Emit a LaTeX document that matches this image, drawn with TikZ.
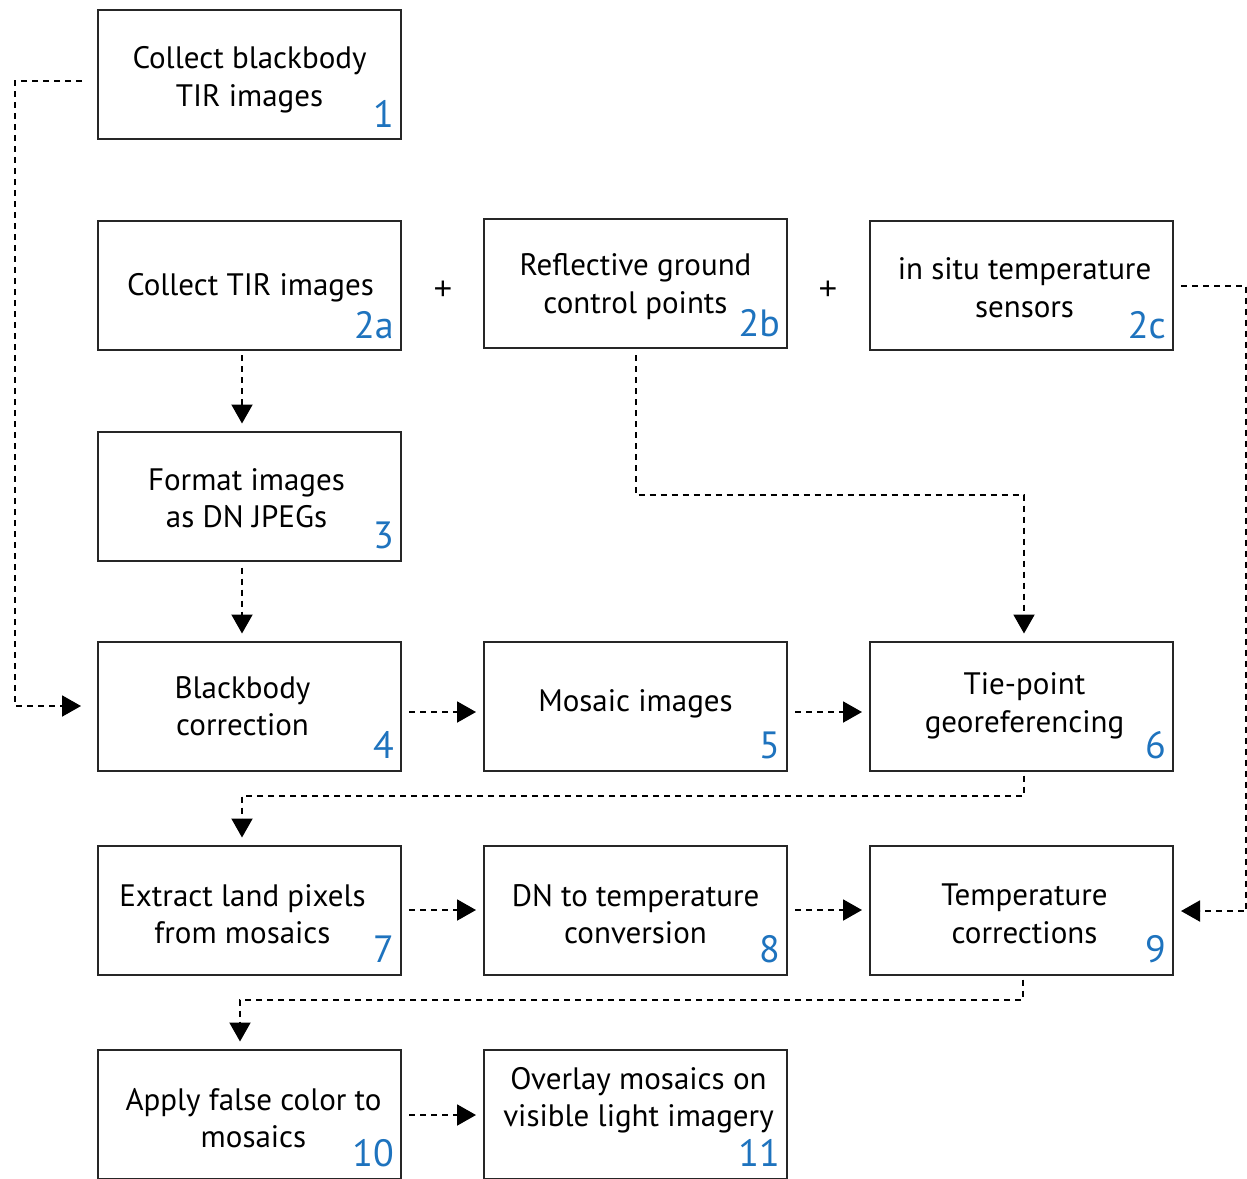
\documentclass[tikz,border=0pt]{standalone}
\usepackage{fontspec}
\setmainfont{PT Sans}
\newfontfamily\plusfont{Liberation Sans}
\usetikzlibrary{arrows.meta,calc}
\definecolor{numblue}{RGB}{30,115,190}
\newcommand\flowbox[7]{%
  \node[box] (#1) at (#2,#3) {};
  \node[txt] (#1t) at (#2+#4,#3+#5+2) {#6};
  \node[num] (#1n) at ($(#1.south east)+(-8,-13)$) {#7};
}
\begin{document}
\begin{tikzpicture}[x=1pt,y=-1pt,
  box/.style={draw=black!85, line width=2pt, minimum width=303pt, minimum height=129pt, inner sep=0pt},
  txt/.style={align=center, font=\fontsize{31}{37.5}\selectfont, inner sep=0pt},
  num/.style={text=numblue, font=\fontsize{38}{38}\selectfont, inner sep=0pt, anchor=base east},
  plussign/.style={inner sep=0pt, font=\plusfont\fontsize{32}{32}\selectfont},
  conn/.style={line width=2pt, dash pattern=on 6pt off 5pt, -{Triangle[length=19pt,width=21pt]}}
]
\useasboundingbox (0,0) rectangle (1247,1178);
\fill[white] (0,0) rectangle (1247,1178);

\flowbox{b1}{249.5}{74.5}{0}{3}{Collect blackbody\\TIR images}{1}
\flowbox{b2a}{249.5}{285.5}{1}{0}{Collect TIR images}{2a}
\flowbox{b2b}{635.5}{283.5}{0}{1}{Reflective ground\\control points}{2b}
\flowbox{b2c}{1021.5}{285.5}{3}{0}{in situ temperature\\sensors}{2c}
\flowbox{b3}{249.5}{496}{-3}{0}{Format images\\as DN JPEGs}{3}
\flowbox{b4}{249.5}{706}{-7}{-2}{Blackbody\\correction}{4}
\flowbox{b5}{635.5}{706}{0}{-4}{Mosaic images}{5}
\flowbox{b6}{1021.5}{706}{3}{-2}{Tie-point\\georeferencing}{6}
\flowbox{b7}{249.5}{910}{-7}{2}{Extract land pixels\\from mosaics}{7}
\flowbox{b8}{635.5}{910}{0}{2}{DN to temperature\\conversion}{8}
\flowbox{b9}{1021.5}{910}{3}{2}{Temperature\\corrections}{9}
\flowbox{b10}{249.5}{1114}{4}{2}{Apply false color to\\mosaics}{10}
\flowbox{b11}{635.5}{1114}{3}{-16}{Overlay mosaics on\\visible light imagery}{11}

\node[plussign] (plus1) at (443,290) {+};
\node[plussign] (plus2) at (828,290) {+};

% connectors
\draw[conn, shorten <=15pt, shorten >=16pt] ([yshift=-6.5pt]b1.west) -| ($(b4.west)+(-82,0)$) -- (b4.west);
\draw[conn, shorten <=4pt, shorten >=7pt] ([xshift=-7.5pt]b2a.south) -- ([xshift=-7.5pt]b3.north);
\draw[conn, shorten <=6pt, shorten >=7pt] ([xshift=-7.5pt]b3.south) -- ([xshift=-7.5pt]b4.north);
\draw[conn, shorten <=7pt, shorten >=7pt] ([yshift=-6pt]b4.east) -- ([yshift=-6pt]b5.west);
\draw[conn, shorten <=7pt, shorten >=7pt] ([yshift=-6pt]b5.east) -- ([yshift=-6pt]b6.west);
\draw[conn, shorten <=6pt, shorten >=7pt] (b2b.south) -- ++(0,146) -| ([xshift=2.5pt]b6.north);
\draw[conn, shorten <=7pt, shorten >=7pt] (b2c.east) -- ++(72,0) |- ([yshift=-1pt]b9.east);
\draw[conn, shorten <=4pt, shorten >=7pt] ([xshift=2.5pt]b6.south) -- ++(0,24) -| ([xshift=-7.5pt]b7.north);
\draw[conn, shorten <=7pt, shorten >=7pt] (b7.east) -- (b8.west);
\draw[conn, shorten <=7pt, shorten >=7pt] (b8.east) -- (b9.west);
\draw[conn, shorten <=4pt, shorten >=7pt] ([xshift=1.5pt]b9.south) -- ++(0,24) -| ([xshift=-9.5pt]b10.north);
\draw[conn, shorten <=7pt, shorten >=7pt] ([yshift=-1pt]b10.east) -- ([yshift=-1pt]b11.west);
\end{tikzpicture}
\end{document}
